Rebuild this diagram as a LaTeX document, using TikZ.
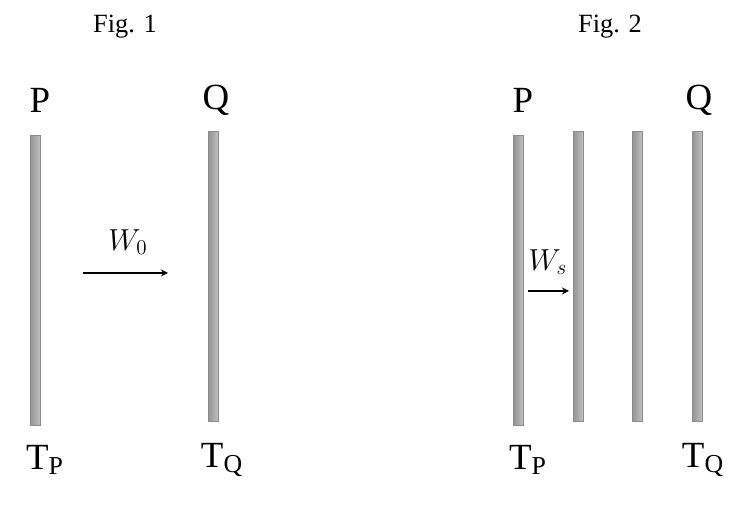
\documentclass[tikz,border=0pt]{standalone}
\usepackage{fontspec}
\setmainfont{Liberation Serif}
\begin{document}
\begin{tikzpicture}[x=0.02cm, y=-0.02cm,
  plate/.style={minimum width=0.2cm, minimum height=5.8cm, inner sep=0pt,
    left color=gray!85, right color=gray!50, draw=gray!90, line width=0.3pt},
  letter/.style={font=\fontsize{21}{24}\selectfont},
  figlabel/.style={font=\fontsize{15}{18}\selectfont},
  flow/.style={-stealth, line width=0.8pt},
  wlabel/.style={font=\fontsize{17}{20}\selectfont}]
\useasboundingbox (0,0) rectangle (745,509);

\node[figlabel] (fig one) at (125,27) {Fig. 1};
\node[figlabel] (fig two) at (610,27) {Fig. 2};

% Fig. 1
\node[letter] (p one) at (40,100) {P};
\node[letter] (q one) at (216,100) {Q};
\node[plate] (plate p one) at (35,280) {};
\node[plate] (plate q one) at (213,276) {};
\node[letter] (tp one) at (45,460) {T$_{\mathrm{P}}$};
\node[letter] (tq one) at (222,460) {T$_{\mathrm{Q}}$};
\coordinate (w start) at (83,273);
\coordinate (w end) at (168,273);
\draw[flow] (w start) -- (w end);
\node[wlabel] (w zero) at (128,242) {$W_0$};

% Fig. 2
\node[letter] (p two) at (523,100) {P};
\node[letter] (q two) at (699,100) {Q};
\node[plate] (plate a) at (518,280) {};
\node[plate] (plate b) at (578,276) {};
\node[plate] (plate c) at (637,276) {};
\node[plate] (plate d) at (697,276) {};
\node[letter] (tp two) at (528,460) {T$_{\mathrm{P}}$};
\node[letter] (tq two) at (703,460) {T$_{\mathrm{Q}}$};
\coordinate (ws start) at (528,291);
\coordinate (ws end) at (569,291);
\draw[flow] (ws start) -- (ws end);
\node[wlabel] (w s) at (548,262) {$W_s$};
\end{tikzpicture}
\end{document}
